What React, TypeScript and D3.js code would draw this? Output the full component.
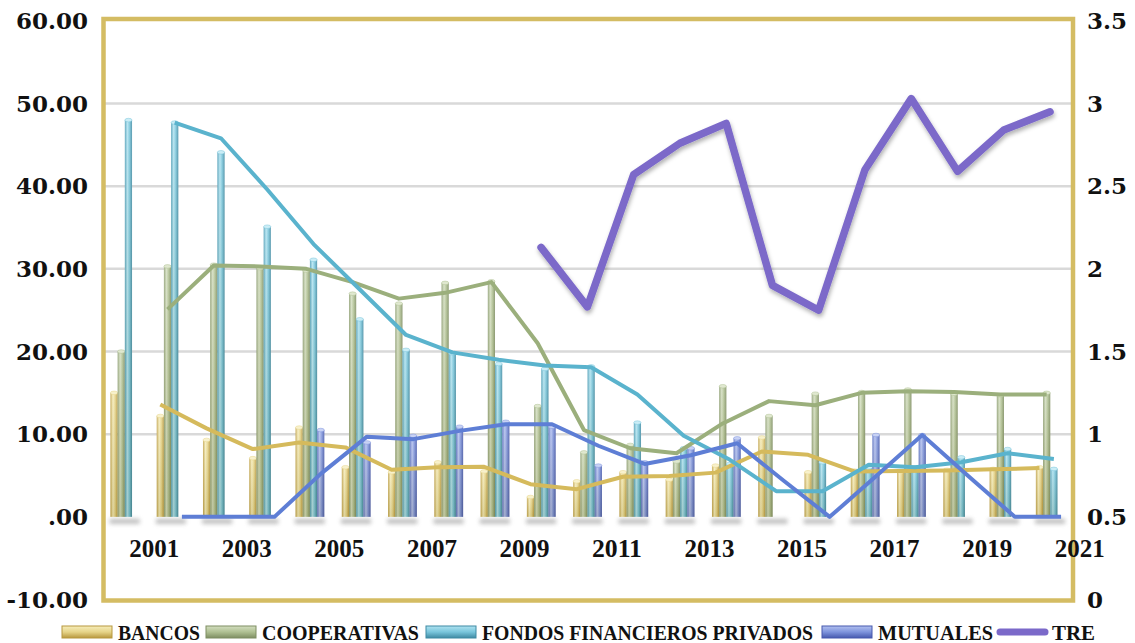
import React from "react";
import * as d3 from "d3";

const years = ["2001","2002","2003","2004","2005","2006","2007","2008","2009","2010","2011","2012","2013","2014","2015","2016","2017","2018","2019","2020","2021"];
const xTickLabels = ["2001","2003","2005","2007","2009","2011","2013","2015","2017","2019","2021"];
const leftTicks = [-10, 0, 10, 20, 30, 40, 50, 60];
const rightTicks = [0, 0.5, 1, 1.5, 2, 2.5, 3, 3.5];

const bancos = [15.0, 12.2, 9.3, 7.1, 10.8, 6.0, 5.4, 6.6, 5.5, 2.4, 4.3, 5.4, 4.5, 6.2, 9.6, 5.4, 5.6, 5.5, 5.7, 5.8, 6.0];
const cooperativas = [20.0, 30.3, 30.5, 30.1, 29.8, 27.0, 25.8, 28.3, 28.5, 13.4, 7.8, 8.7, 6.7, 15.8, 12.2, 14.9, 15.1, 15.4, 14.9, 14.7, 15.0];
const fondos = [48.0, 47.7, 44.1, 35.1, 31.1, 23.9, 20.2, 19.8, 18.5, 17.9, 18.2, 11.4, 8.3, 6.4, 0, 6.6, 6.0, 6.0, 7.2, 8.2, 5.8];
const mutuales = [0, 0, 0, 0, 10.5, 9.0, 9.8, 10.9, 11.5, 10.9, 6.2, 6.6, 8.3, 9.5, 0, 0, 9.9, 9.9, 0, 0, 0];

const bancosTrend = [null, 13.6, 10.7, 8.2, 9.0, 8.4, 5.7, 6.0, 6.05, 3.95, 3.35, 4.85, 4.95, 5.35, 7.9, 7.5, 5.5, 5.55, 5.6, 5.75, 5.9];
const cooperativasTrend = [null, 25.1, 30.4, 30.3, 30.0, 28.4, 26.4, 27.1, 28.4, 21.0, 10.5, 8.3, 7.7, 11.3, 14.0, 13.5, 15.0, 15.2, 15.1, 14.8, 14.8];
const fondosTrend = [null, 47.7, 45.8, 39.6, 33.0, 27.5, 22.0, 19.9, 19.0, 18.3, 18.1, 14.8, 9.8, 6.9, 3.1, 3.1, 6.3, 6.0, 6.6, 7.7, 7.0];
const mutualesTrend = [null, 0, 0, 0, 5.2, 9.7, 9.4, 10.4, 11.2, 11.2, 8.6, 6.4, 7.45, 8.9, 4.4, 0, 4.9, 9.9, 4.9, 0, 0];
const tre = [null, null, null, null, null, null, null, null, null, 2.13, 1.77, 2.57, 2.76, 2.88, 1.90, 1.75, 2.60, 3.03, 2.59, 2.84, 2.95];

const seriesKeys = ["bancos", "cooperativas", "fondos", "mutuales"];
const seriesLabels = ["BANCOS", "COOPERATIVAS", "FONDOS FINANCIEROS PRIVADOS", "MUTUALES"];
const seriesValues = [bancos, cooperativas, fondos, mutuales];
const seriesTrends = [bancosTrend, cooperativasTrend, fondosTrend, mutualesTrend];

const gradStops: Record<string, string[]> = {
  bancos: ["#C2A44C", "#F6EDBB", "#E6D488", "#B8983E"],
  cooperativas: ["#8D9E72", "#D3DEC0", "#AFC092", "#7E8E62"],
  fondos: ["#4C9DB7", "#B0E3F1", "#78C5DB", "#3F8AA3"],
  mutuales: ["#566DC2", "#B3C1F0", "#7D93DC", "#4659AE"],
};
const capColor: Record<string, string> = {
  bancos: "#F8F1CC",
  cooperativas: "#E0E8D0",
  fondos: "#CBEDF6",
  mutuales: "#C8D2F4",
};
const lineColor: Record<string, string> = {
  bancos: "#D5BA5C",
  cooperativas: "#9BAF7C",
  fondos: "#5AB3CD",
  mutuales: "#5E7ED5",
};
const treColor = "#7B69C9";
const frameColor = "#D4BC63";

export default function App() {
  const W = 1135, H = 643;
  const x = d3.scaleBand<string>().domain(years).range([101.5, 1073.2]);
  const step = x.bandwidth();
  const cx = (i: number) => (x(years[i]) as number) + step / 2;
  const xs = d3.scaleBand<string>().domain(seriesKeys).range([-14.2, 14.6]);
  const bw = xs.bandwidth();
  const yL = d3.scaleLinear().domain([-10, 60]).range([599.5, 20.9]);
  const yR = d3.scaleLinear().domain([0, 3.5]).range([599.5, 20.9]);

  const plotL = 103.5, plotR = 1073, plotT = 19, plotB = 600.5;

  const trendLine = (k: string) =>
    d3.line<number | null>()
      .defined((d) => d != null)
      .x((_, i) => cx(i) + (xs(k) as number) + bw / 2)
      .y((d) => yL(d as number));
  const treLine = d3.line<number | null>()
    .defined((d) => d != null)
    .x((_, i) => cx(i))
    .y((d) => yR(d as number));

  const fmtL = (v: number) => (v === 0 ? ".00" : v.toFixed(2));

  const legendX = [62, 206, 426, 822];
  const legendTextW = [82, 157, 331, 115];
  const legendY = 632;

  return (
    <svg width={W} height={H} style={{ position: "absolute", left: 0, top: 0, background: "#fff" }}>
      <defs>
        {seriesKeys.map((k) => (
          <linearGradient key={k} id={`g-${k}`} x1="0" x2="1" y1="0" y2="0">
            <stop offset="0%" stopColor={gradStops[k][0]} />
            <stop offset="35%" stopColor={gradStops[k][1]} />
            <stop offset="65%" stopColor={gradStops[k][2]} />
            <stop offset="100%" stopColor={gradStops[k][3]} />
          </linearGradient>
        ))}
        {seriesKeys.map((k) => (
          <linearGradient key={k} id={`gv-${k}`} x1="0" x2="0" y1="0" y2="1">
            <stop offset="0%" stopColor={gradStops[k][1]} />
            <stop offset="50%" stopColor={gradStops[k][2]} />
            <stop offset="100%" stopColor={gradStops[k][3]} />
          </linearGradient>
        ))}
        <linearGradient id="shade" x1="0" x2="0" y1="0" y2="1">
          <stop offset="0%" stopColor="#fff" stopOpacity="0.15" />
          <stop offset="100%" stopColor="#5a4a00" stopOpacity="0.14" />
        </linearGradient>
        <filter id="blur" x="-20%" y="-200%" width="140%" height="500%">
          <feGaussianBlur stdDeviation="2" />
        </filter>
        <filter id="drop" x="-10%" y="-10%" width="120%" height="130%">
          <feDropShadow dx="1" dy="3" stdDeviation="2" floodColor="#000" floodOpacity="0.3" />
        </filter>
        <filter id="dropSmall" x="-10%" y="-10%" width="120%" height="130%">
          <feDropShadow dx="0" dy="2" stdDeviation="1.5" floodColor="#000" floodOpacity="0.2" />
        </filter>
      </defs>

      {leftTicks.filter((t) => t > 0 && t < 60).map((t) => (
        <line key={t} x1={plotL} x2={plotR - 2} y1={yL(t)} y2={yL(t)} stroke="#D9D9D9" strokeWidth={2.5} />
      ))}
      <line x1={plotL} x2={plotR - 2} y1={yL(0)} y2={yL(0)} stroke="#D4D4D4" strokeWidth={3} filter="url(#dropSmall)" />

      {years.map((yr, i) => (
        <rect key={yr} x={cx(i) - 15} y={yL(0) + 2} width={30} height={5} fill="#8a8a8a" opacity={0.55} filter="url(#blur)" />
      ))}

      {seriesKeys.map((k, si) => (
        <g key={k}>
          {seriesValues[si].map((v, i) => {
            if (!v) return null;
            const bx = cx(i) + (xs(k) as number);
            const top = yL(v);
            const h = yL(0) - top;
            return (
              <g key={i}>
                <rect x={bx} y={top} width={bw} height={h} fill={`url(#g-${k})`} />
                <rect x={bx} y={top} width={bw} height={h} fill="url(#shade)" />
                <ellipse cx={bx + bw / 2} cy={top} rx={bw / 2} ry={1.8} fill={capColor[k]} stroke={gradStops[k][2]} strokeWidth={0.5} />
              </g>
            );
          })}
        </g>
      ))}

      {seriesKeys.map((k, si) => (
        <path key={k} d={trendLine(k)(seriesTrends[si]) || ""} fill="none" stroke={lineColor[k]} strokeWidth={4} strokeLinejoin="round" />
      ))}

      <path d={treLine(tre) || ""} fill="none" stroke={treColor} strokeWidth={7.5} strokeLinejoin="round" strokeLinecap="round" filter="url(#drop)" />

      <rect x={plotL} y={plotT} width={plotR - plotL} height={plotB - plotT} fill="none" stroke={frameColor} strokeWidth={4.5} />

      {leftTicks.map((t) => (
        <text key={t} x={88} y={yL(t)} dy="0.36em" textAnchor="end" fontFamily="'DejaVu Serif', serif" fontWeight="bold" fontSize={23} fill="#111">
          {fmtL(t)}
        </text>
      ))}
      {rightTicks.map((t) => (
        <text key={t} x={1087} y={yR(t)} dy="0.36em" textAnchor="start" fontFamily="'DejaVu Serif', serif" fontWeight="bold" fontSize={23} fill="#111">
          {String(t)}
        </text>
      ))}
      {xTickLabels.map((lab) => {
        const i = years.indexOf(lab);
        return (
          <text key={lab} x={cx(i) + step * 0.64} y={557} textAnchor="middle" fontFamily="'Liberation Serif', serif" fontWeight="bold" fontSize={25} textLength={50} lengthAdjust="spacingAndGlyphs" fill="#111">
            {lab}
          </text>
        );
      })}

      {seriesKeys.map((k, si) => (
        <g key={k}>
          <rect x={legendX[si]} y={legendY - 6} width={50} height={12} fill={`url(#gv-${k})`} stroke={gradStops[k][3]} strokeWidth={1} />
          <text x={legendX[si] + 56} y={legendY + 7.5} fontFamily="'Liberation Serif', serif" fontWeight="bold" fontSize={21} textLength={legendTextW[si]} lengthAdjust="spacingAndGlyphs" fill="#111">
            {seriesLabels[si]}
          </text>
        </g>
      ))}
      <line x1={1000} x2={1045} y1={legendY} y2={legendY} stroke={treColor} strokeWidth={7} strokeLinecap="round" />
      <text x={1052} y={legendY + 7.5} fontFamily="'Liberation Serif', serif" fontWeight="bold" fontSize={21} textLength={43} lengthAdjust="spacingAndGlyphs" fill="#111">
        TRE
      </text>
    </svg>
  );
}
